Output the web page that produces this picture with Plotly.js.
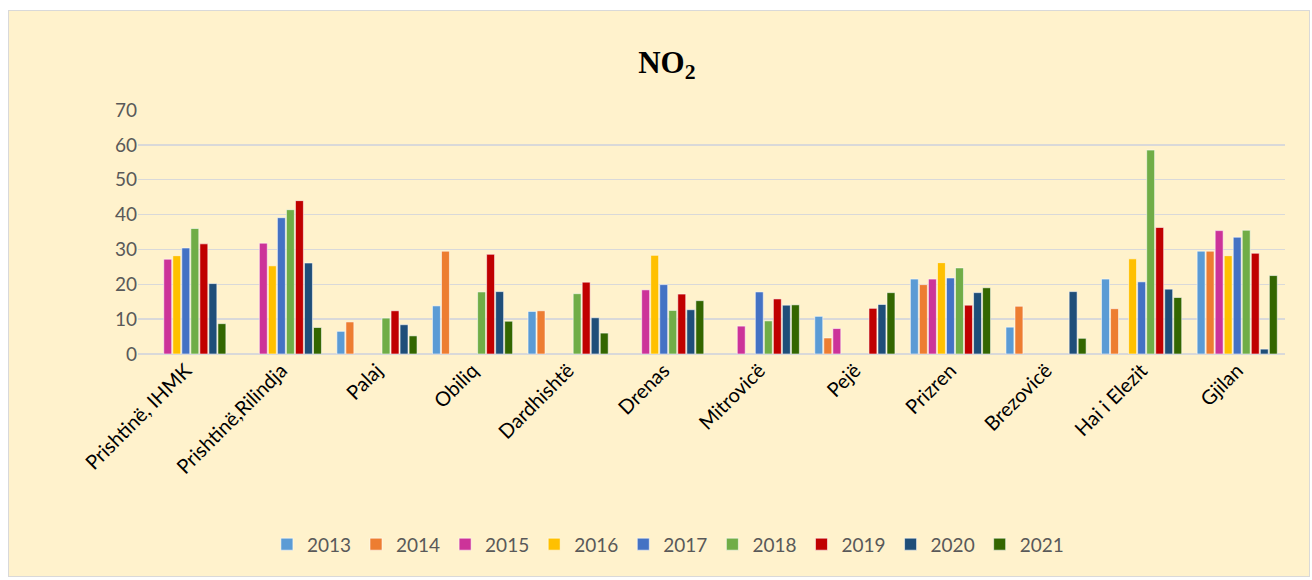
<!DOCTYPE html>
<html>
<head>
<meta charset="utf-8">
<script src="https://cdn.plot.ly/plotly-3.0.1.min.js"></script>
<style>
  html, body { margin: 0; padding: 0; background: #ffffff; }
  #chart { position: absolute; left: 8px; top: 10px; width: 1302px; height: 567px; border: 1px solid #d9d9d9; box-sizing: border-box; }
</style>
</head>
<body>
<div id="chart"></div>
<script>
const stations = ["Prishtinë, IHMK", "Prishtinë,Rilindja", "Palaj", "Obiliq", "Dardhishtë", "Drenas", "Mitrovicë", "Pejë", "Prizren", "Brezovicë", "Hai i Elezit", "Gjilan"];
const years = ["2013", "2014", "2015", "2016", "2017", "2018", "2019", "2020", "2021"];
const colors = ["#5B9BD5", "#ED7D31", "#CC3399", "#FFC000", "#4472C4", "#70AD47", "#C00000", "#1F4E79", "#336600"];

const v2013 = [null, null, 6.5, 13.8, 12.2, null, null, 10.8, 21.5, 7.7, 21.5, 29.5];
const v2014 = [null, null, 9.2, 29.5, 12.4, null, null, 4.6, 19.9, 13.7, 13.0, 29.5];
const v2015 = [27.2, 31.8, null, null, null, 18.4, 8.0, 7.3, 21.5, null, null, 35.4];
const v2016 = [28.2, 25.3, null, null, null, 28.3, null, null, 26.2, null, 27.3, 28.2];
const v2017 = [30.4, 39.1, null, null, null, 19.9, 17.8, null, 21.8, null, 20.7, 33.5];
const v2018 = [36.0, 41.4, 10.3, 17.8, 17.3, 12.5, 9.5, null, 24.7, null, 58.5, 35.5];
const v2019 = [31.6, 44.0, 12.4, 28.6, 20.6, 17.2, 15.8, 13.1, 14.0, null, 36.3, 28.9];
const v2020 = [20.2, 26.1, 8.4, 17.9, 10.4, 12.7, 14.0, 14.2, 17.6, 17.9, 18.6, 1.4];
const v2021 = [8.7, 7.6, 5.2, 9.4, 6.0, 15.3, 14.1, 17.6, 19.0, 4.5, 16.2, 22.5];

const series = [v2013, v2014, v2015, v2016, v2017, v2018, v2019, v2020, v2021];

const traces = series.map((vals, i) => ({
  type: "bar",
  name: years[i],
  x: stations,
  y: vals,
  marker: { color: colors[i], line: { color: "rgba(255,255,255,0.55)", width: 1 } },
  hoverinfo: "x+y+name"
}));

const layout = {
  width: 1300,
  height: 565,
  paper_bgcolor: "#FFF2CC",
  plot_bgcolor: "#FFF2CC",
  margin: { l: 129, r: 24, t: 99, b: 220 },
  barmode: "group",
  bargap: 0.15,
  bargroupgap: 0.12,
  title: {
    text: "<b>NO<sub>2</sub></b>",
    font: { family: "Liberation Serif, Times New Roman, serif", size: 31, color: "#000000" },
    x: 0.506, xanchor: "center",
    y: 0.91, yanchor: "middle", yref: "container"
  },
  xaxis: {
    type: "category",
    tickangle: -45,
    tickfont: { family: "Lato, Open Sans, sans-serif", size: 20, color: "#000000" },
    showline: false,
    ticks: "",
    showgrid: false
  },
  yaxis: {
    range: [0, 70],
    dtick: 10,
    tickfont: { family: "Lato, Open Sans, sans-serif", size: 19, color: "#595959" },
    gridcolor: "#d9d9d9",
    gridwidth: 1.5,
    zeroline: true,
    zerolinecolor: "#d9d9d9",
    zerolinewidth: 1.5,
    ticks: "",
    ticklen: 0,
    showline: false
  },
  showlegend: true,
  legend: {
    orientation: "h",
    x: 0.462, xanchor: "center",
    y: -0.78, yanchor: "middle",
    font: { family: "Lato, Open Sans, sans-serif", size: 19, color: "#595959" },
    bgcolor: "rgba(0,0,0,0)",
    itemwidth: 30,
    traceorder: "normal"
  }
};

Plotly.newPlot("chart", traces, layout, { displayModeBar: false, staticPlot: true });
</script>
</body>
</html>
